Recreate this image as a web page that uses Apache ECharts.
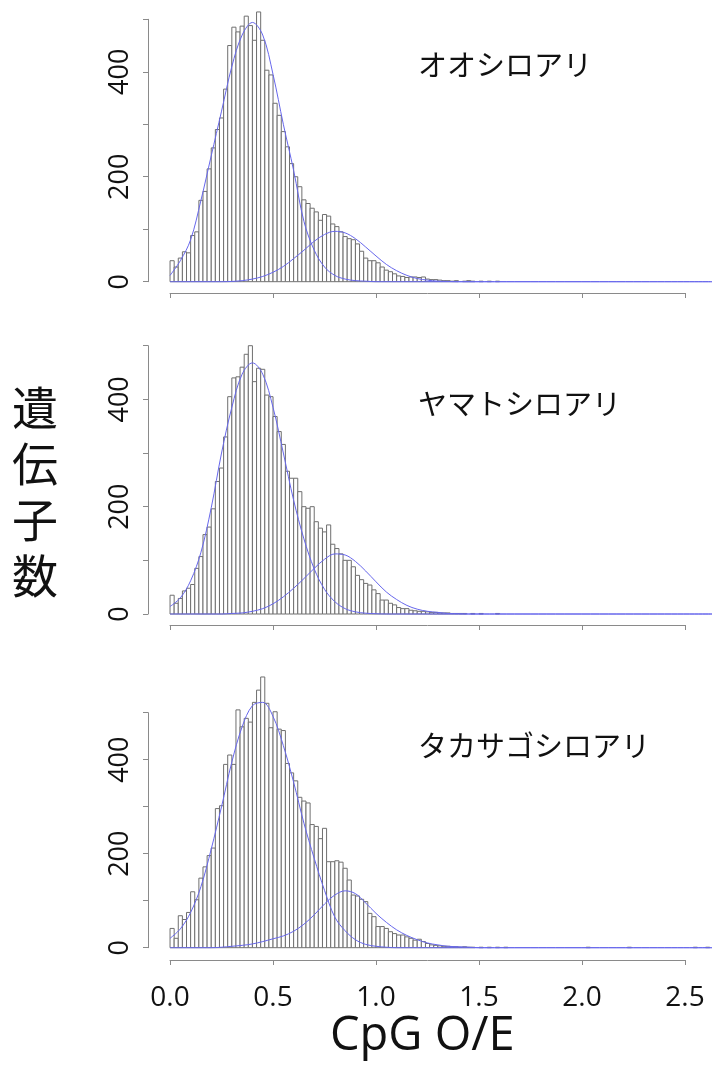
<!DOCTYPE html>
<html><head><meta charset="utf-8">
<script src="https://cdn.jsdelivr.net/npm/echarts@6/dist/echarts.min.js"></script>
<style>html,body{margin:0;padding:0;background:#fff}#c{width:712px;height:1073px}</style>
</head><body><div id="c"></div>
<script>
// ---- data ----
const binStart = 0.0;
const binWidth = 0.02;
const speciesNames = ['オオシロアリ', 'ヤマトシロアリ', 'タカサゴシロアリ'];
const xTickValues = [0, 0.5, 1.0, 1.5, 2.0, 2.5];
const yTickLabels = [0, 200, 400];

const countsP1 = [40, 28, 45, 57, 55, 88, 95, 155, 172, 215, 255, 290, 312, 367, 450, 485, 476, 487, 506, 488,
  460, 514, 460, 403, 394, 340, 317, 286, 257, 225, 200, 181, 156, 149, 140, 133, 117, 128, 125, 110,
  105, 95, 86, 82, 80, 72, 58, 45, 40, 40, 36, 28, 22, 19, 15, 11, 10, 8, 9, 9,
  8, 9, 5, 4, 4, 3, 2, 2, 1, 2, 0, 1, 2, 1, 0, 1, 0, 1, 0, 1];
const countsP2 = [35, 20, 29, 43, 48, 55, 85, 107, 148, 162, 196, 247, 272, 330, 405, 440, 442, 460, 484, 500,
  433, 458, 456, 408, 405, 368, 340, 316, 266, 253, 253, 228, 200, 197, 200, 172, 160, 153, 166, 130,
  122, 112, 100, 100, 88, 72, 64, 57, 54, 45, 38, 26, 26, 20, 17, 12, 10, 10, 7, 6,
  5, 5, 4, 3, 3, 2, 2, 2, 1, 1, 1, 1, 0, 1, 0, 1, 0, 0, 0, 1];
const countsP3 = [41, 20, 68, 60, 75, 119, 102, 148, 172, 196, 212, 296, 302, 390, 410, 390, 506, 470, 488, 480,
  522, 548, 576, 520, 468, 502, 465, 462, 392, 372, 355, 320, 312, 308, 262, 258, 232, 254, 183, 183,
  185, 182, 169, 144, 112, 110, 103, 98, 73, 66, 45, 45, 41, 34, 30, 27, 27, 23, 20, 16,
  18, 13, 9, 6, 5, 4, 3, 3, 2, 2, 1, 2, 1, 1, 0, 1, 0, 1, 0, 1,
  0, 1, 0, 0, 0, 0, 0, 0, 0, 0, 0, 0, 0, 0, 0, 0, 0, 0, 0, 0,
  0, 1, 0, 0, 0, 0, 0, 0, 0, 0, 0, 1, 0, 0, 0, 0, 0, 0, 0, 0,
  0, 0, 0, 0, 0, 0, 0, 1, 0, 0, 1, 0];

// fitted curves, read at these x positions
const curveX = [0.00, 0.05, 0.10, 0.15, 0.20, 0.25, 0.30, 0.35, 0.40, 0.45, 0.50, 0.55, 0.60, 0.65, 0.70, 0.75,
  0.80, 0.85, 0.90, 0.95, 1.00, 1.05, 1.10, 1.15, 1.20, 1.25, 1.30, 1.35, 1.40, 1.45, 1.50, 1.55, 1.60];
const mainP1 = [12, 40, 80, 155, 240, 325, 410, 470, 494, 470, 395, 300, 212, 115, 60, 28, 12, 5, 2, 1, 0, 0, 0, 0, 0, 0, 0, 0, 0, 0, 0, 0, 0];
const secondP1 = [0, 0, 0, 0, 0, 0, 0.5, 2, 5, 10, 18, 29, 44, 60, 77, 90, 96, 93, 82, 66, 49, 33, 21, 12, 6, 3, 1, 0.5, 0, 0, 0, 0, 0];
const mainP2 = [14, 30, 62, 115, 198, 300, 385, 447, 468, 447, 385, 300, 212, 140, 84, 46, 23, 10, 4, 1.5, 0.5, 0, 0, 0, 0, 0, 0, 0, 0, 0, 0, 0, 0];
const secondP2 = [0, 0, 0, 0, 0, 0, 1, 2, 5, 10, 19, 32, 48, 66, 85, 102, 112, 110, 98, 80, 60, 41, 27, 16, 9, 5, 3, 1, 0.5, 0, 0, 0, 0];
const mainP3 = [20, 40, 75, 130, 210, 300, 395, 470, 515, 522, 492, 430, 352, 265, 190, 122, 65, 36, 17, 7, 3, 1, 0, 0, 0, 0, 0, 0, 0, 0, 0, 0, 0];
const secondP3 = [0, 0, 0, 0, 0, 1, 3, 5, 8, 13, 19, 25, 35, 50, 70, 93, 112, 121, 115, 95, 73, 54, 38, 26, 17, 10, 6, 3, 2, 1, 0, 0, 0];

// ---- layout ----
const X_MIN = -0.107, X_MAX = 2.631;
const panels = [
  {counts: countsP1, main: mainP1, second: secondP1, top: 19.3, height: 262.4, axisY: 292, titleY: 71},
  {counts: countsP2, main: mainP2, second: secondP2, top: 345.7, height: 268.3, axisY: 624, titleY: 410},
  {counts: countsP3, main: mainP3, second: secondP3, top: 712.7, height: 235, axisY: 959, titleY: 752}
];
const LATIN = "'Open Sans', 'Noto Sans', sans-serif";
const CJK = "'Noto Sans CJK JP', sans-serif";
const AXIS_GRAY = '#8a8a8a';
const CURVE = '#6767ec';

const grid = [], xAxis = [], yAxis = [], series = [], graphic = [];
panels.forEach((p, k) => {
  grid.push({left: 148, right: 0, top: p.top, height: p.height});
  xAxis.push({type: 'value', gridIndex: k, min: X_MIN, max: X_MAX, show: false});
  yAxis.push({
    type: 'value', gridIndex: k, min: 0, max: 500, interval: 100,
    axisLine: {show: true, onZero: false, lineStyle: {color: AXIS_GRAY, width: 1}},
    axisTick: {show: true, length: 5, lineStyle: {color: AXIS_GRAY}},
    splitLine: {show: false},
    axisLabel: {
      rotate: 90, margin: 14, color: '#111', fontSize: 27, fontFamily: LATIN,
      formatter: v => (yTickLabels.indexOf(v) >= 0 ? String(v) : '')
    }
  });
  const bars = p.counts.map((c, i) => [binStart + i * binWidth, binStart + (i + 1) * binWidth, c]);
  series.push({
    type: 'custom', xAxisIndex: k, yAxisIndex: k, clip: false, z: 2,
    encode: {x: [0, 1], y: 2},
    data: bars,
    renderItem: (params, api) => {
      const v = api.value(2);
      if (!v) return null;
      const a = api.coord([api.value(0), v]);
      const b = api.coord([api.value(1), 0]);
      return {type: 'rect', shape: {x: a[0], y: a[1], width: b[0] - a[0], height: b[1] - a[1]},
        style: {fill: '#ffffff', stroke: '#6f6f6f', lineWidth: 1}};
    }
  });
  [p.main, p.second].forEach(vals => {
    const d = curveX.map((x, i) => [x, vals[i]]);
    d.push([X_MAX, 0]);
    series.push({type: 'line', xAxisIndex: k, yAxisIndex: k, data: d, smooth: 0.35, showSymbol: false,
      symbol: 'none', z: 5, clip: false, lineStyle: {color: CURVE, width: 1}, silent: true});
  });
  graphic.push({type: 'text', left: 418, top: p.titleY - 21,
    style: {text: speciesNames[k], fontSize: 29, fontFamily: CJK, fill: '#111'}});
});
// x-axis (drawn only from 0.0 to 2.5) in thin helper grids
panels.forEach((p, k) => {
  const gi = 3 + k;
  grid.push({left: 170, width: 515, top: p.axisY, height: 1});
  xAxis.push({
    type: 'value', gridIndex: gi, min: xTickValues[0], max: xTickValues[xTickValues.length - 1], interval: 0.5,
    axisLine: {show: true, onZero: false, lineStyle: {color: AXIS_GRAY, width: 1}},
    axisTick: {show: true, length: 5, lineStyle: {color: AXIS_GRAY}},
    splitLine: {show: false},
    axisLabel: {show: k === 2, margin: 24, color: '#111', fontSize: 28, fontFamily: LATIN,
      formatter: v => v.toFixed(1)}
  });
  yAxis.push({type: 'value', gridIndex: gi, min: 0, max: 1, show: false});
});
graphic.push({type: 'text', left: 330, top: 1013,
  style: {text: 'CpG O/E', fontSize: 47, fontFamily: LATIN, fill: '#111'}});
graphic.push({type: 'text', left: 12, top: 380,
  style: {text: '遺\n伝\n子\n数', fontSize: 46, lineHeight: 56, fontFamily: CJK, fill: '#111'}});

const chart = echarts.init(document.getElementById('c'));
chart.setOption({backgroundColor: '#ffffff', animation: false, grid, xAxis, yAxis, series, graphic});
</script></body></html>
